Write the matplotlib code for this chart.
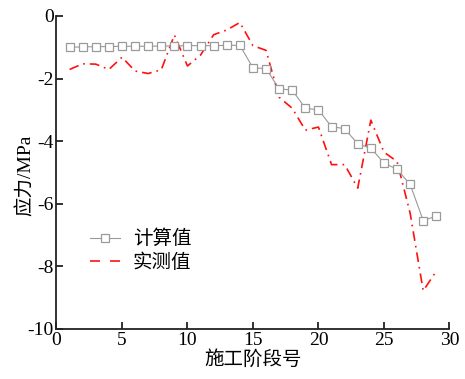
import matplotlib
matplotlib.use("Agg")
import matplotlib.pyplot as plt
from matplotlib.lines import Line2D

plt.rcParams['font.family'] = ['Liberation Serif', 'Noto Sans CJK SC']
plt.rcParams['axes.unicode_minus'] = False
plt.rcParams['lines.scale_dashes'] = False

# construction stage numbers
stages = list(range(1, 30))

# calculated stress (MPa)
calculated = [-1.00, -0.99, -0.98, -0.98, -0.97, -0.97, -0.97, -0.96, -0.96, -0.95,
              -0.95, -0.95, -0.94, -0.94, -1.66, -1.68, -2.33, -2.37, -2.95, -3.00,
              -3.54, -3.60, -4.09, -4.22, -4.70, -4.90, -5.38, -6.54, -6.39]

# measured stress (MPa)
measured = [-1.71, -1.53, -1.54, -1.71, -1.32, -1.76, -1.84, -1.72, -0.61, -1.60,
            -1.25, -0.60, -0.45, -0.21, -0.95, -1.10, -2.60, -2.95, -3.65, -3.55,
            -4.75, -4.75, -5.50, -3.33, -4.35, -4.65, -6.30, -8.78, -8.15]

xticks = [0, 5, 10, 15, 20, 25, 30]
yticks = [0, -2, -4, -6, -8, -10]

fig = plt.figure(figsize=(4.65, 3.79), dpi=100)
ax = fig.add_axes([0.1215, 0.132, 0.845, 0.826])

ax.plot(stages, calculated, color='#9a9a9a', linewidth=0.8, marker='s',
        markersize=6.2, markerfacecolor='white', markeredgecolor='#9a9a9a',
        markeredgewidth=0.9, label='计算值', zorder=3)
red, = ax.plot(stages, measured, color='#ff1010', linewidth=1.2,
               label='实测值', zorder=2)
red.set_dashes([7.0, 3.6, 1.2, 3.6])

ax.set_xlim(0, 30)
ax.set_ylim(-10, 0)
ax.set_xticks(xticks)
ax.set_yticks(yticks)
ax.set_xticklabels([str(v) for v in xticks])
ax.set_yticklabels([str(v) for v in yticks])

for side in ('top', 'right'):
    ax.spines[side].set_visible(False)
for side in ('left', 'bottom'):
    ax.spines[side].set_linewidth(1.3)
    ax.spines[side].set_color('#222222')

ax.tick_params(direction='in', length=5, width=1.3, color='#222222',
               labelsize=14, pad=2)

ax.set_xlabel('施工阶段号', fontsize=14, labelpad=1)
ax.set_ylabel('应力/MPa', fontsize=14)
ax.yaxis.set_label_coords(-0.055, 0.49)

handles = [
    Line2D([], [], color='#9a9a9a', linewidth=0.8, marker='s', markersize=6.2,
           markerfacecolor='white', markeredgecolor='#9a9a9a', markeredgewidth=0.9),
    Line2D([], [], color='#ff1010', linewidth=1.2, dashes=[7.2, 7.2]),
]
ax.legend(handles, ['计算值', '实测值'], loc='center left',
          bbox_to_anchor=(0.085, 0.25), frameon=False, fontsize=14,
          handlelength=1.55, handletextpad=0.65, labelspacing=0.25,
          borderpad=0, borderaxespad=0)

fig.savefig('out.png', dpi=100)
